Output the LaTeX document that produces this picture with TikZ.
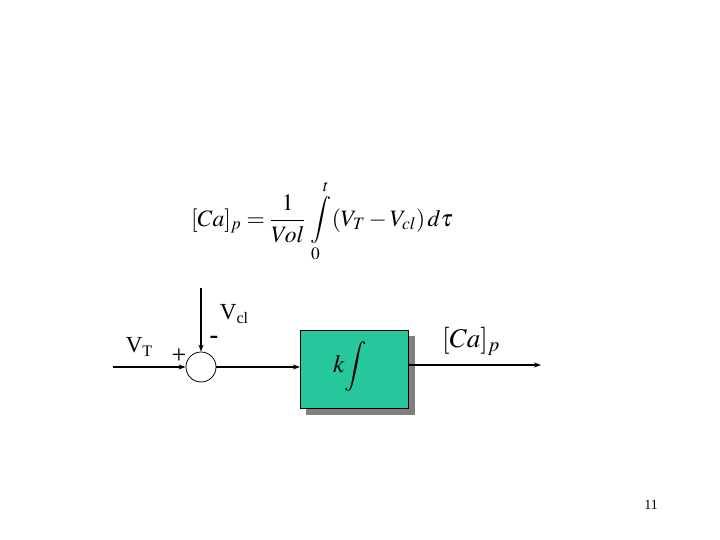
\documentclass[tikz,border=0pt]{standalone}
\usepackage{mathptmx}
\usepackage[no-math]{fontspec}
\setmainfont{Liberation Serif}
\usetikzlibrary{arrows.meta}
\definecolor{boxgreen}{RGB}{40,200,158}
\definecolor{shadowgrey}{RGB}{128,128,128}
\tikzset{
  conn/.style={line width=1.3pt,-{Stealth[length=7pt,width=5pt]}},
  lbl/.style={inner sep=0pt,font=\fontsize{23}{26}\selectfont},
}
\begin{document}
\begin{tikzpicture}[x=1pt,y=-1pt]
\useasboundingbox (0,0) rectangle (720,540);
% equation
\node[inner sep=0pt] (eq) at (322,221) {\fontsize{23.5}{28}\selectfont $\displaystyle[Ca]_p=\frac{1}{Vol}\,\int\limits_{\!0}^{t} (V_T-V_{cl})\,d\tau$};
% sum junction
\node[draw,circle,minimum size=30pt,inner sep=0pt,line width=0.8pt] (sum) at (201,367) {};
\coordinate (in) at (113,367);
\coordinate (top) at (201,288);
% shadow and box
\fill[shadowgrey] (306,336) rectangle (415,415);
\node[draw,fill=boxgreen,line width=0.8pt,minimum width=108pt,minimum height=78pt,inner sep=0pt,anchor=north west] (blk) at (300,330) {};
\node[inner sep=0pt] (kint) at (350,366) {\fontsize{25}{30}\selectfont $k\!\displaystyle\int$};
\coordinate (out) at (541,365);
% connectors
\draw[conn] (in) -- (sum.west);
\draw[conn] (top) -- (sum.north);
\draw[conn] (sum.east) -- (blk.west |- sum.east);
\draw[conn] (blk.east |- out) -- (out);
% labels
\node[lbl] (vt) at (139,347) {V\raisebox{-4pt}{\fontsize{16}{18}\selectfont T}};
\node[lbl] (vcl) at (234,314) {V\raisebox{-4pt}{\fontsize{16}{18}\selectfont cl}};
\node[lbl,font=\fontsize{26}{30}\selectfont] (plus) at (179,356) {+};
\node[lbl,font=\fontsize{26}{30}\selectfont\bfseries] (minus) at (214,340) {-};
\node[inner sep=0pt] (ca) at (471,341) {\fontsize{27}{32}\selectfont $[Ca]_p$};
\node[inner sep=0pt,font=\fontsize{14}{16}\selectfont] (pg) at (651,505) {11};
\end{tikzpicture}
\end{document}
